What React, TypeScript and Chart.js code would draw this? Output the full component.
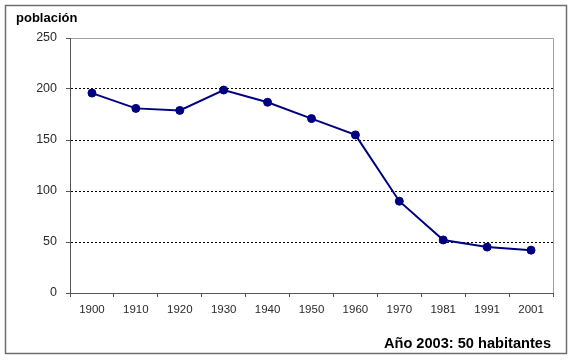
import React, { useEffect, useRef } from "react";
import { Chart, registerables } from "chart.js";

Chart.register(...registerables);

const years = ["1900", "1910", "1920", "1930", "1940", "1950", "1960", "1970", "1981", "1991", "2001"];
const population = [196, 181, 179, 199, 187, 171, 155, 90, 52, 45, 42];
const yMin = 0;
const yMax = 250;
const yStep = 50;
const titleText = "población";
const noteText = "Año 2003: 50 habitantes";

const FONT = "'Liberation Sans', Arial, sans-serif";

const framePlugin = {
  id: "framePlugin",
  beforeDraw(chart: any) {
    const ctx = chart.ctx;
    const { left, top, right, bottom } = chart.chartArea;
    ctx.save();
    ctx.fillStyle = "#ffffff";
    ctx.fillRect(0, 0, chart.width, chart.height);
    // outer frame
    ctx.strokeStyle = "#6f6f6f";
    ctx.lineWidth = 1.5;
    ctx.strokeRect(5.5, 5.5, 561, 348);
    // plot border (top/right)
    ctx.strokeStyle = "#a0a0a0";
    ctx.lineWidth = 1;
    ctx.beginPath();
    ctx.moveTo(left, top + 0.5);
    ctx.lineTo(right + 0.5, top + 0.5);
    ctx.lineTo(right + 0.5, bottom);
    ctx.stroke();
    ctx.restore();
  },
  afterDraw(chart: any) {
    const ctx = chart.ctx;
    ctx.save();
    ctx.fillStyle = "#000000";
    ctx.textBaseline = "alphabetic";
    ctx.font = `bold 13px ${FONT}`;
    ctx.textAlign = "left";
    ctx.fillText(titleText, 16, 22);
    ctx.font = `bold 14.6px ${FONT}`;
    ctx.textAlign = "right";
    ctx.fillText(noteText, 551, 348);
    ctx.restore();
  },
};

export default function App() {
  const ref = useRef<HTMLCanvasElement | null>(null);
  useEffect(() => {
    if (!ref.current) return;
    const chart = new Chart(ref.current, {
      type: "line",
      data: {
        labels: years,
        datasets: [
          {
            data: population,
            borderColor: "#000080",
            backgroundColor: "#000080",
            borderWidth: 2,
            pointRadius: 4,
            pointBorderWidth: 1,
            pointBackgroundColor: "#000080",
            pointBorderColor: "#000080",
            tension: 0,
          },
        ],
      },
      options: {
        animation: false,
        responsive: false,
        devicePixelRatio: 1,
        layout: { padding: { left: 0, top: 38, right: 21, bottom: 0 } },
        plugins: { legend: { display: false }, tooltip: { enabled: false }, title: { display: false } },
        scales: {
          x: {
            offset: true,
            afterFit(scale: any) {
              scale.height = 68;
            },
            grid: {
              offset: true,
              drawOnChartArea: false,
              drawTicks: true,
              tickLength: 4,
              tickColor: "#555555",
              color: "#555555",
            },
            border: { display: true, color: "#555555", width: 1 },
            ticks: {
              color: "#2a2a2a",
              font: { family: FONT, size: 11.5 },
              padding: 6,
              maxRotation: 0,
            },
          },
          y: {
            min: yMin,
            max: yMax,
            afterFit(scale: any) {
              scale.width = 70;
            },
            ticks: {
              stepSize: yStep,
              color: "#2a2a2a",
              font: { family: FONT, size: 12.5 },
              padding: 9,
            },
            grid: {
              drawTicks: true,
              tickLength: 4,
              color: (c: any) =>
                c.tick && (c.tick.value === yMin || c.tick.value === yMax) ? "rgba(0,0,0,0)" : "#000000",
              tickColor: "#555555",
              lineWidth: 1,
            },
            border: { display: true, color: "#555555", width: 1, dash: [2, 2] },
          },
        },
      },
      plugins: [framePlugin],
    });
    return () => chart.destroy();
  }, []);
  return (
    <div style={{ position: "absolute", left: 0, top: 0, width: 574, height: 361 }}>
      <canvas ref={ref} width={574} height={361} style={{ width: 574, height: 361 }} />
    </div>
  );
}
